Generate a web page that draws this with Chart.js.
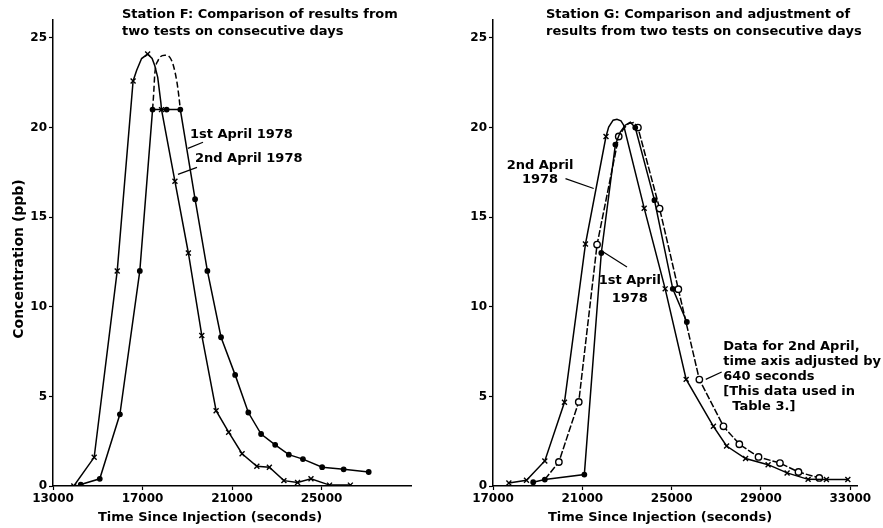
<!DOCTYPE html>
<html lang="en">

<head>
  <meta charset="UTF-8">
  <script src="https://cdn.jsdelivr.net/npm/chart.js"></script>
  <title>Stations F and G</title>
  <style>
    body { margin: 0; background: #fff; }
    .painel { position: absolute; top: 0; }
  </style>
</head>

<body>
  <div class="painel" style="left:0"><canvas id="graficoF" width="440" height="528"></canvas></div>
  <div class="painel" style="left:440px"><canvas id="graficoG" width="443" height="528"></canvas></div>

<script>
  // ---------------- data ----------------

  // Station F, 2nd April 1978 (crosses)
  const fTime2nd = [13930, 14840, 15870, 16580, 17230, 17850, 18450, 19050, 19650, 20290, 20850, 21450, 22110, 22670, 23320, 23930, 24530, 25360, 26290];
  const fConc2nd = [0, 1.6, 12.0, 22.6, 24.1, 21.0, 17.0, 13.0, 8.4, 4.2, 3.0, 1.8, 1.1, 1.05, 0.3, 0.2, 0.4, 0.05, 0.05];
  // points on the hand drawn peak (no marker)
  const fCurveTime2nd = [16740, 16960, 17430, 17550, 17680, 17820];
  const fCurveConc2nd = [23.2, 23.85, 23.85, 23.45, 22.8, 21.4];

  // Station F, 1st April 1978 (dots)
  const fTime1st = [14240, 15090, 15990, 16880, 17450, 18080, 18690, 19350, 19900, 20510, 21140, 21730, 22300, 22930, 23540, 24170, 25030, 25990, 27110];
  const fConc1st = [0.08, 0.4, 4.0, 12.0, 21.0, 21.0, 21.0, 16.0, 12.0, 8.3, 6.2, 4.1, 2.9, 2.3, 1.75, 1.5, 1.05, 0.93, 0.78];
  // dashed peak drawn over the 21 ppb plateau
  const fPeakTime1st = [17450, 17500, 17550, 17700, 18000, 18230, 18370, 18530, 18630, 18690];
  const fPeakConc1st = [21, 21.9, 23.0, 23.75, 24.03, 23.9, 23.5, 22.6, 21.7, 21];

  // Station G, 2nd April 1978 (crosses)
  const gTime2nd = [17710, 18500, 19320, 20200, 21140, 22060, 23770, 24710, 25650, 26870, 27460, 28310, 29320, 30170, 31110, 31930, 32890];
  const gConc2nd = [0.17, 0.32, 1.4, 4.67, 13.5, 19.5, 15.5, 11.0, 5.95, 3.33, 2.23, 1.53, 1.19, 0.73, 0.37, 0.36, 0.36];
  const gCurveTime2nd = [22180, 22380, 22550, 22730, 22850];
  const gCurveConc2nd = [20.03, 20.41, 20.46, 20.37, 20.13];

  // Station G, 1st April 1978 (dots)
  const gTime1st = [18800, 19320, 21090, 21850, 22480, 23370, 24230, 25050, 25680];
  const gConc1st = [0.21, 0.36, 0.64, 13.0, 19.05, 20.0, 15.95, 11.0, 9.15];
  const gCurveTime1st = [22700, 22920, 23150];
  const gCurveConc1st = [19.75, 20.13, 20.3];

  // Station G, 2nd April with time axis adjusted by 640 s (open circles)
  const gTimeAdj = [19950, 20840, 21660, 22630, 23490, 24460, 25300, 26240, 27320, 28030, 28890, 29850, 30680, 31610];
  const gConcAdj = [1.34, 4.69, 13.47, 19.5, 20.0, 15.48, 10.98, 5.94, 3.33, 2.33, 1.62, 1.28, 0.78, 0.45];
  const gCurveTimeAdj = [19320, 22850, 23070, 23300];
  const gCurveConcAdj = [0.36, 19.94, 20.22, 20.28];

  // tick labels
  const fTicksX = [13000, 17000, 21000, 25000];
  const gTicksX = [17000, 21000, 25000, 29000, 33000];
  const ticksY = [0, 5, 10, 15, 20, 25];

  // ---------------- helpers ----------------

  const fonte = '"DejaVu Sans", Verdana, sans-serif';

  // join marked points and unmarked curve points, sorted by time
  function juntar(tempos, valores, curvaT, curvaV) {
    let pts = tempos.map((t, i) => ({ x: t, y: valores[i], marca: true }));
    if (curvaT) {
      curvaT.forEach((t, i) => pts.push({ x: t, y: curvaV[i], marca: false }));
    }
    pts.sort((a, b) => a.x - b.x);
    return pts;
  }

  function serie(pontos, estilo, raio, tracejado, fundo) {
    return {
      data: pontos,
      borderColor: '#000',
      borderWidth: 1.5,
      borderDash: tracejado || [],
      pointStyle: estilo,
      pointRadius: (c) => (c.raw && c.raw.marca ? raio : 0),
      pointBorderColor: '#000',
      pointBackgroundColor: fundo || '#000',
      pointBorderWidth: 1.4,
      showLine: true,
      tension: 0,
      fill: false
    };
  }

  // texts: titles, axis titles, labels with leader lines
  const textos = {
    id: 'textos',
    afterDraw(chart, args, opts) {
      const ctx = chart.ctx;
      const sx = chart.scales.x, sy = chart.scales.y;
      ctx.save();
      ctx.fillStyle = '#000';
      ctx.strokeStyle = '#000';
      ctx.font = 'bold 13px ' + fonte;
      ctx.textBaseline = 'middle';

      (opts.titulo || []).forEach((t, i) => {
        ctx.textAlign = 'left';
        ctx.fillText(t, opts.tituloX, 15 + i * 17);
      });

      ctx.textAlign = 'center';
      ctx.fillText('Time Since Injection (seconds)', opts.eixoX, 518);

      if (opts.eixoY) {
        ctx.save();
        ctx.font = 'bold 14px ' + fonte;
        ctx.translate(19, 259);
        ctx.rotate(-Math.PI / 2);
        ctx.fillText('Concentration (ppb)', 0, 0);
        ctx.restore();
      }

      (opts.notas || []).forEach((n) => {
        ctx.textAlign = n.alinhar || 'left';
        const px = sx.getPixelForValue(n.x);
        const py = sy.getPixelForValue(n.y);
        n.linhas.forEach((l, i) => ctx.fillText(l, px, py + i * (n.passo || 15)));
        if (n.seta) {
          ctx.lineWidth = 1.2;
          ctx.beginPath();
          ctx.moveTo(sx.getPixelForValue(n.seta[0]), sy.getPixelForValue(n.seta[1]));
          ctx.lineTo(sx.getPixelForValue(n.seta[2]), sy.getPixelForValue(n.seta[3]));
          ctx.stroke();
        }
      });
      ctx.restore();
    }
  };

  function montar(id, datasets, xMin, xMax, xTicks, dirPad, textosOpts) {
    const eixoFonte = { family: fonte, weight: 'bold', size: 12 };
    return new Chart(document.getElementById(id), {
      type: 'scatter',
      data: { datasets: datasets },
      options: {
        responsive: false,
        animation: false,
        layout: { padding: { top: 20, right: dirPad, left: 0, bottom: 0 } },
        plugins: {
          legend: { display: false },
          tooltip: { enabled: false },
          textos: textosOpts
        },
        scales: {
          x: {
            type: 'linear',
            min: xMin,
            max: xMax,
            afterBuildTicks: (s) => { s.ticks = xTicks.map((v) => ({ value: v })); },
            afterFit: (s) => { s.height = 42; },
            grid: { drawOnChartArea: false, drawTicks: true, tickLength: 4, tickColor: '#000', tickWidth: 1.2 },
            border: { display: true, color: '#000', width: 1.5 },
            ticks: { color: '#000', font: eixoFonte, padding: 2, maxRotation: 0, callback: (v) => String(v) }
          },
          y: {
            min: 0,
            max: 26,
            afterBuildTicks: (s) => { s.ticks = ticksY.map((v) => ({ value: v })); },
            afterFit: (s) => { s.width = 53; },
            grid: { drawOnChartArea: false, drawTicks: true, tickLength: 4, tickColor: '#000', tickWidth: 1.2 },
            border: { display: true, color: '#000', width: 1.5 },
            ticks: { color: '#000', font: eixoFonte, padding: 2 }
          }
        }
      },
      plugins: [textos]
    });
  }

  // ---------------- Station F ----------------
  montar('graficoF', [
    serie(juntar(fTime2nd, fConc2nd, fCurveTime2nd, fCurveConc2nd), 'crossRot', 3.5),
    serie(juntar(fTime1st, fConc1st), 'circle', 2.2),
    Object.assign(serie(juntar(fPeakTime1st, fPeakConc1st), 'circle', 0, [6, 3]), { pointRadius: 0, cubicInterpolationMode: 'monotone' })
  ], 13000, 29000, fTicksX, 29, {
    titulo: ['Station F: Comparison of results from', 'two tests on consecutive days'],
    tituloX: 122,
    eixoX: 210,
    eixoY: true,
    notas: [
      { x: 19121, y: 19.63, linhas: ['1st April 1978'], seta: [19704, 19.18, 19032, 18.84] },
      { x: 19345, y: 18.28, linhas: ['2nd April 1978'], seta: [19435, 17.78, 18585, 17.39] }
    ]
  });

  // ---------------- Station G ----------------
  montar('graficoG', [
    serie(juntar(gTime2nd, gConc2nd, gCurveTime2nd, gCurveConc2nd), 'crossRot', 3.5),
    serie(juntar(gTime1st, gConc1st, gCurveTime1st, gCurveConc1st), 'circle', 2.2),
    serie(juntar(gTimeAdj, gConcAdj, gCurveTimeAdj, gCurveConcAdj), 'circle', 3.2, [7, 2], '#fff')
  ], 17000, 33300, gTicksX, 26, {
    titulo: ['Station G: Comparison and adjustment of', 'results from two tests on consecutive days'],
    tituloX: 106,
    eixoX: 220,
    eixoY: false,
    notas: [
      { x: 19107, y: 17.86, linhas: ['2nd April', '1978'], alinhar: 'center', passo: 14, seta: [20246, 17.15, 21509, 16.6] },
      { x: 23125, y: 11.48, linhas: ['1st April', '1978'], alinhar: 'center', passo: 18, seta: [23000, 12.22, 21942, 13.06] },
      { x: 27313, y: 7.8, linhas: ['Data for 2nd April,', 'time axis adjusted by', '640 seconds', '[This data used in', '  Table 3.]'], passo: 15, seta: [26527, 5.95, 27241, 6.36] }
    ]
  });
</script>
</body>

</html>
